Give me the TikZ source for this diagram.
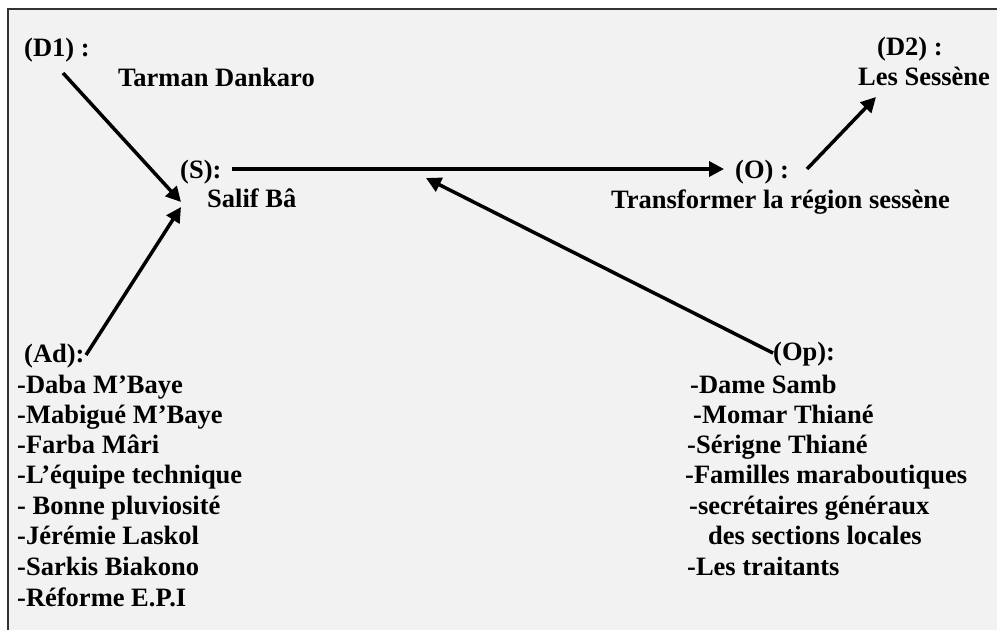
\documentclass[tikz,border=0pt]{standalone}
\usepackage{fontspec}
\setmainfont{Liberation Serif}
\usetikzlibrary{arrows.meta}
\definecolor{bg}{HTML}{F2F2F2}
\begin{document}
\begin{tikzpicture}[x=1pt,y=-1pt,
  lbl/.style={anchor=base west, inner sep=0pt, font=\fontsize{26.5}{30.5}\selectfont\bfseries},
  arr/.style={line width=3.5pt, -{Triangle[length=15pt,width=15pt]}},
  frame/.style={line width=1.6pt, black!80}]
\useasboundingbox (0,0) rectangle (997,630);
\fill[white] (0,0) rectangle (997,630);
\fill[bg] (8,9) rectangle (997,630);
\draw[frame] (8,630) -- (8,9) -- (997,9);

% top labels
\node[lbl] (d1) at (24,56) {(D1) :};
\node[lbl] (tarman) at (118,86) {Tarman Dankaro};
\node[lbl] (s) at (180,178) {(S):};
\node[lbl] (salif) at (207,207) {Salif Bâ};
\node[lbl] (o) at (735,178) {(O) :};
\node[lbl] (transf) at (611,208) {Transformer la région sessène};
\node[lbl] (d2) at (877,55) {(D2) :};
\node[lbl] (sessene) at (858,85) {Les Sessène};

% adjuvants
\node[lbl] (ad) at (24,362) {(Ad):};
\node[lbl] (ad1) at (17,393) {-Daba M’Baye};
\node[lbl] (ad2) at (17,423) {-Mabigué M’Baye};
\node[lbl] (ad3) at (17,453) {-Farba Mâri};
\node[lbl] (ad4) at (17,483) {-L’équipe technique};
\node[lbl] (ad5) at (17,514) {- Bonne pluviosité};
\node[lbl] (ad6) at (17,544) {-Jérémie Laskol};
\node[lbl] (ad7) at (17,575) {-Sarkis Biakono};
\node[lbl] (ad8) at (17,606) {-Réforme E.P.I};

% opposants
\node[lbl] (op) at (773,360) {(Op):};
\node[lbl] (op1) at (690,393) {-Dame Samb};
\node[lbl] (op2) at (693,423) {-Momar Thiané};
\node[lbl] (op3) at (687,453) {-Sérigne Thiané};
\node[lbl] (op4) at (685,483) {-Familles maraboutiques};
\node[lbl] (op5) at (689,514) {-secrétaires généraux};
\node[lbl] (op6) at (708,544) {des sections locales};
\node[lbl] (op7) at (687,575) {-Les traitants};

% connector ends
\coordinate (d1t) at (63,73);
\coordinate (sin1) at (181,202);
\coordinate (adt) at (86,355);
\coordinate (sin2) at (181,207);
\coordinate (st) at (232,169);
\coordinate (oin) at (724,169);
\coordinate (ot) at (807,169);
\coordinate (d2in) at (876,97);
\coordinate (opt) at (773,353);
\coordinate (axis) at (426,178);

\draw[arr] (d1t) -- (sin1);
\draw[arr] (adt) -- (sin2);
\draw[arr] (st) -- (oin);
\draw[arr] (ot) -- (d2in);
\draw[arr] (opt) -- (axis);
\end{tikzpicture}
\end{document}
